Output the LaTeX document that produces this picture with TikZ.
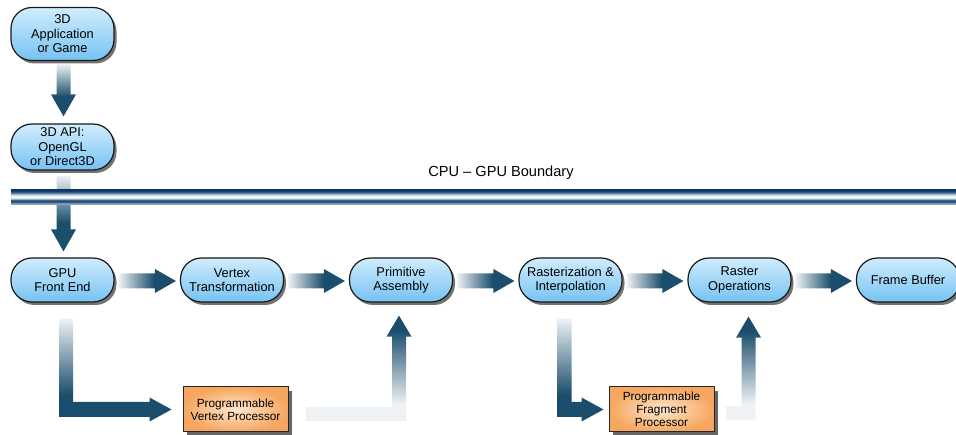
\documentclass[tikz,border=0pt]{standalone}
\usepackage{fontspec}
\setmainfont{Liberation Sans}
\usetikzlibrary{shadows,calc}

\definecolor{arrdark}{RGB}{27,78,108}
\definecolor{arrlight}{RGB}{238,242,245}
\definecolor{nodetop}{RGB}{208,237,253}
\definecolor{nodebot}{RGB}{118,194,243}
\definecolor{boxin}{RGB}{254,232,208}
\definecolor{boxout}{RGB}{246,166,94}

\pgfdeclarelayer{arrowlayer}
\pgfdeclarelayer{bandlayer}
\pgfsetlayers{arrowlayer,bandlayer,main}

\pgfdeclarehorizontalshading{arrowh}{100bp}{color(0bp)=(arrlight); color(25bp)=(arrlight); color(56bp)=(arrdark); color(100bp)=(arrdark)}
\pgfdeclareverticalshading{arrowv}{100bp}{color(0bp)=(arrdark); color(25bp)=(arrdark); color(44bp)=(arrdark); color(75bp)=(arrlight); color(100bp)=(arrlight)}
\pgfdeclareverticalshading{arrowL}{100bp}{color(0bp)=(arrdark); color(25bp)=(arrdark); color(38bp)=(arrdark); color(75bp)=(arrlight); color(100bp)=(arrlight)}
\pgfdeclareverticalshading{arrowU}{100bp}{color(0bp)=(arrlight); color(25bp)=(arrlight); color(33bp)=(arrlight); color(68bp)=(arrdark); color(100bp)=(arrdark)}
\pgfdeclareverticalshading{bandshade}{100bp}{%
 color(0bp)=(rgb,255:red,168;green,188;blue,205);
 color(25bp)=(rgb,255:red,168;green,188;blue,205);
 color(31.7bp)=(rgb,255:red,110;green,143;blue,174);
 color(36.7bp)=(rgb,255:red,28;green,70;blue,116);
 color(41.7bp)=(rgb,255:red,58;green,98;blue,140);
 color(46.7bp)=(rgb,255:red,201;green,214;blue,226);
 color(51.7bp)=(rgb,255:red,255;green,255;blue,255);
 color(56.7bp)=(rgb,255:red,230;green,237;blue,243);
 color(61.7bp)=(rgb,255:red,154;green,178;blue,200);
 color(66.7bp)=(rgb,255:red,63;green,103;blue,144);
 color(71.7bp)=(rgb,255:red,23;green,63;blue,109);
 color(75bp)=(rgb,255:red,18;green,56;blue,102);
 color(100bp)=(rgb,255:red,18;green,56;blue,102)}

% fat arrows (canvas offsets, y up)
\newcommand\fatdown[2]{%
 \path[shade,shading=arrowv] let \p1=(#1), \p2=(#2) in
  (\x1-7pt,\y1) -- (\x1+7pt,\y1) -- (\x1+7pt,\y2+22pt) -- (\x1+12.5pt,\y2+22pt)
  -- (\x1,\y2) -- (\x1-12.5pt,\y2+22pt) -- (\x1-7pt,\y2+22pt) -- cycle;}
\newcommand\fatright[2]{%
 \path[shade,shading=arrowh] let \p1=(#1), \p2=(#2) in
  (\x1,\y1+7.5pt) -- (\x2-21pt,\y1+7.5pt) -- (\x2-21pt,\y1+12pt) -- (\x2,\y1)
  -- (\x2-21pt,\y1-12pt) -- (\x2-21pt,\y1-7.5pt) -- (\x1,\y1-7.5pt) -- cycle;}
\newcommand\fatdownright[2]{%
 \path[shade,shading=arrowL] let \p1=(#1), \p2=(#2) in
  (\x1-7pt,\y1) -- (\x1+7pt,\y1) -- (\x1+7pt,\y2+7.5pt) -- (\x2-22pt,\y2+7.5pt)
  -- (\x2-22pt,\y2+12pt) -- (\x2,\y2) -- (\x2-22pt,\y2-12pt) -- (\x2-22pt,\y2-7.5pt)
  -- (\x1-7pt,\y2-7.5pt) -- cycle;}
\newcommand\fatrightup[2]{%
 \path[shade,shading=arrowU] let \p1=(#1), \p2=(#2) in
  (\x1,\y1-7pt) -- (\x2+7pt,\y1-7pt) -- (\x2+7pt,\y2-21pt) -- (\x2+12.5pt,\y2-21pt)
  -- (\x2,\y2) -- (\x2-12.5pt,\y2-21pt) -- (\x2-7pt,\y2-21pt) -- (\x2-7pt,\y1+7pt)
  -- (\x1,\y1+7pt) -- cycle;}

\tikzset{
 stage/.style={rectangle, rounded corners=21pt, draw=black!90, line width=1.2pt,
   minimum width=103pt, minimum height=44pt, inner sep=2pt,
   top color=nodetop, bottom color=nodebot,
   drop shadow={shadow xshift=2.5pt, shadow yshift=-3pt, fill=black, opacity=0.55},
   align=center, font=\fontsize{12.8}{14.5}\selectfont},
 procbox/.style={rectangle, draw=black!85, line width=1pt,
   minimum width=105pt, minimum height=45pt, inner sep=2pt,
   inner color=boxin, outer color=boxout,
   drop shadow={shadow xshift=4pt, shadow yshift=-4pt, fill=black, opacity=0.6},
   align=center, font=\fontsize{11.8}{13.2}\selectfont}
}

\begin{document}
\begin{tikzpicture}[x=1pt,y=-1pt]
\useasboundingbox (0,0) rectangle (956,435);

\node[stage, minimum height=53pt] (app) at (62.5,34) {3D\\Application\\or Game};
\node[stage, minimum height=46pt] (api) at (62.5,147) {3D API:\\OpenGL\\or Direct3D};
\node[stage] (gfe) at (62.5,280) {GPU\\Front End};
\node[stage] (vt) at (232,280) {Vertex\\Transformation};
\node[stage] (pa) at (401,280) {Primitive\\Assembly};
\node[stage] (ri) at (570.5,280) {Rasterization \&\\Interpolation};
\node[stage] (ro) at (739.5,280) {Raster\\Operations};
\node[stage] (fb) at (908,280) {Frame Buffer};
\node[procbox] (vpp) at (235.5,409.5) {Programmable\\Vertex Processor};
\node[procbox] (fpp) at (661.5,409.5) {Programmable\\Fragment\\Processor};

\begin{pgfonlayer}{arrowlayer}
\fatdown{$(app.south)+(1pt,-3pt)$}{$(api.north)+(1pt,7pt)$}
\fatdown{$(api.south)+(1pt,-5pt)$}{$(gfe.north)+(1pt,6pt)$}
\fatright{$(gfe.east)+(4pt,-1pt)$}{$(vt.west)+(-4pt,-1pt)$}
\fatright{$(vt.east)+(4pt,-1pt)$}{$(pa.west)+(-4pt,-1pt)$}
\fatright{$(pa.east)+(4pt,-1pt)$}{$(ri.west)+(-4pt,-1pt)$}
\fatright{$(ri.east)+(4pt,-1pt)$}{$(ro.west)+(-4pt,-1pt)$}
\fatright{$(ro.east)+(4pt,-1pt)$}{$(fb.west)+(-4pt,-1pt)$}
\fatdownright{$(gfe.south)+(3.5pt,-16pt)$}{$(vpp.west)+(-11pt,0)$}
\fatdownright{$(ri.south)+(-6pt,-16pt)$}{$(fpp.west)+(-5pt,0)$}
\fatrightup{$(vpp.east)+(18pt,-4.5pt)$}{$(pa.south)+(-2pt,-13pt)$}
\fatrightup{$(fpp.east)+(12pt,-4pt)$}{$(ro.south)+(9pt,-14pt)$}
\end{pgfonlayer}

\begin{pgfonlayer}{bandlayer}
\shade[shading=bandshade] (11,190) rectangle (957,205);
\end{pgfonlayer}
\node[anchor=base, font=\fontsize{14.6}{17}\selectfont] (cpugpu) at (501,177) {CPU – GPU Boundary};
\end{tikzpicture}
\end{document}
